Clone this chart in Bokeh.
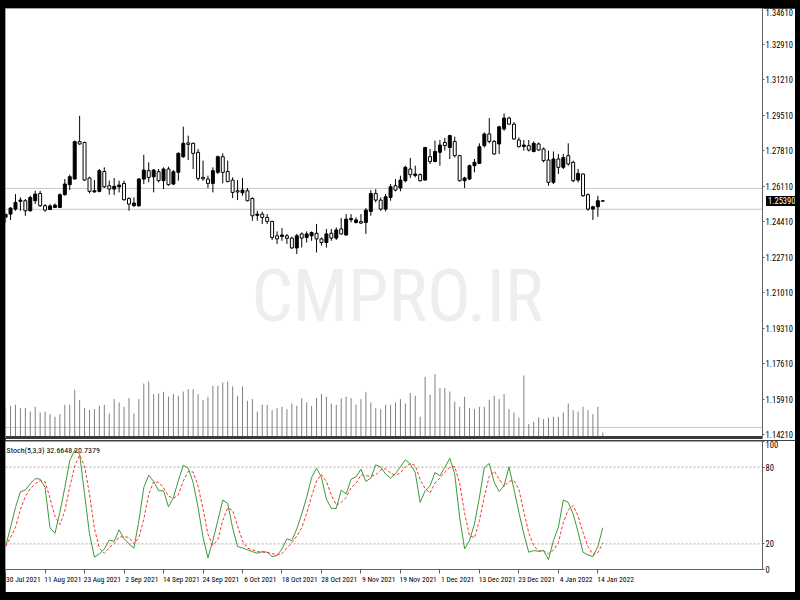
from bokeh.plotting import figure
from bokeh.models import Range1d, FixedTicker, PrintfTickFormatter, Span, Label, LinearAxis, Div
from bokeh.layouts import column
from bokeh.embed import file_html
from bokeh.resources import INLINE

FONT = "Roboto Condensed, Noto Sans Condensed, DejaVu Sans Condensed, Liberation Sans"

# ---------------- data ----------------
date_labels = ["30 Jul 2021", "11 Aug 2021", "23 Aug 2021", "2 Sep 2021", "14 Sep 2021",
               "24 Sep 2021", "6 Oct 2021", "18 Oct 2021", "28 Oct 2021", "9 Nov 2021",
               "19 Nov 2021", "1 Dec 2021", "13 Dec 2021", "23 Dec 2021", "4 Jan 2022",
               "14 Jan 2022"]
date_bars = [0, 8, 16, 24, 32, 40, 48, 56, 64, 72, 80, 88, 96, 104, 112, 120]

opens = [1.2462, 1.2477, 1.2501, 1.2538, 1.2541, 1.2493, 1.2541, 1.2576, 1.2517, 1.2499,
         1.2509, 1.2509, 1.2570, 1.2618, 1.2645, 1.2824, 1.2820, 1.2650, 1.2583, 1.2586,
         1.2681, 1.2613, 1.2597, 1.2608, 1.2624, 1.2552, 1.2517, 1.2517, 1.2645, 1.2685,
         1.2656, 1.2680, 1.2637, 1.2693, 1.2621, 1.2677, 1.2752, 1.2818, 1.2816, 1.2773,
         1.2653, 1.2645, 1.2624, 1.2677, 1.2752, 1.2681, 1.2640, 1.2589, 1.2579, 1.2589,
         1.2552, 1.2471, 1.2477, 1.2461, 1.2442, 1.2373, 1.2370, 1.2373, 1.2362, 1.2315,
         1.2382, 1.2365, 1.2373, 1.2385, 1.2358, 1.2341, 1.2385, 1.2362, 1.2406, 1.2377,
         1.2450, 1.2437, 1.2441, 1.2437, 1.2490, 1.2576, 1.2544, 1.2501, 1.2557, 1.2613,
         1.2602, 1.2637, 1.2693, 1.2662, 1.2666, 1.2640, 1.2752, 1.2729, 1.2773, 1.2820,
         1.2796, 1.2825, 1.2757, 1.2637, 1.2645, 1.2709, 1.2720, 1.2805, 1.2861, 1.2825,
         1.2813, 1.2885, 1.2937, 1.2908, 1.2832, 1.2801, 1.2805, 1.2777, 1.2813, 1.2789,
         1.2736, 1.2629, 1.2741, 1.2701, 1.2757, 1.2725, 1.2640, 1.2669, 1.2570, 1.2501,
         1.2512, 1.2541]
highs = [1.2480, 1.2509, 1.2573, 1.2557, 1.2549, 1.2565, 1.2589, 1.2589, 1.2525, 1.2525,
         1.2528, 1.2576, 1.2645, 1.2666, 1.2829, 1.2948, 1.2824, 1.2656, 1.2640, 1.2693,
         1.2701, 1.2637, 1.2650, 1.2637, 1.2637, 1.2557, 1.2557, 1.2650, 1.2761, 1.2725,
         1.2693, 1.2693, 1.2701, 1.2704, 1.2688, 1.2773, 1.2896, 1.2853, 1.2820, 1.2789,
         1.2733, 1.2661, 1.2701, 1.2757, 1.2768, 1.2733, 1.2653, 1.2640, 1.2650, 1.2602,
         1.2557, 1.2493, 1.2488, 1.2477, 1.2445, 1.2394, 1.2410, 1.2382, 1.2369, 1.2382,
         1.2389, 1.2394, 1.2394, 1.2430, 1.2365, 1.2406, 1.2406, 1.2413, 1.2458, 1.2477,
         1.2477, 1.2461, 1.2477, 1.2506, 1.2592, 1.2597, 1.2557, 1.2573, 1.2621, 1.2645,
         1.2661, 1.2709, 1.2746, 1.2709, 1.2672, 1.2799, 1.2789, 1.2829, 1.2832, 1.2842,
         1.2857, 1.2848, 1.2761, 1.2656, 1.2714, 1.2741, 1.2816, 1.2868, 1.2937, 1.2832,
         1.2900, 1.2959, 1.2943, 1.2918, 1.2844, 1.2832, 1.2832, 1.2825, 1.2820, 1.2796,
         1.2781, 1.2777, 1.2765, 1.2765, 1.2816, 1.2733, 1.2693, 1.2672, 1.2576, 1.2517,
         1.2565, 1.2543]
lows = [1.2436, 1.2449, 1.2493, 1.2493, 1.2469, 1.2488, 1.2525, 1.2512, 1.2488, 1.2496,
        1.2506, 1.2506, 1.2565, 1.2592, 1.2642, 1.2809, 1.2637, 1.2576, 1.2581, 1.2581,
        1.2602, 1.2570, 1.2568, 1.2581, 1.2541, 1.2493, 1.2512, 1.2512, 1.2621, 1.2629,
        1.2581, 1.2629, 1.2597, 1.2613, 1.2616, 1.2637, 1.2746, 1.2736, 1.2693, 1.2637,
        1.2637, 1.2602, 1.2581, 1.2669, 1.2624, 1.2629, 1.2554, 1.2544, 1.2565, 1.2538,
        1.2445, 1.2445, 1.2429, 1.2429, 1.2353, 1.2334, 1.2349, 1.2334, 1.2310, 1.2286,
        1.2317, 1.2341, 1.2349, 1.2293, 1.2326, 1.2317, 1.2349, 1.2353, 1.2378, 1.2373,
        1.2437, 1.2432, 1.2429, 1.2382, 1.2469, 1.2533, 1.2493, 1.2490, 1.2541, 1.2586,
        1.2586, 1.2629, 1.2650, 1.2653, 1.2633, 1.2637, 1.2717, 1.2725, 1.2709, 1.2781,
        1.2741, 1.2748, 1.2633, 1.2602, 1.2640, 1.2677, 1.2717, 1.2796, 1.2816, 1.2761,
        1.2765, 1.2876, 1.2905, 1.2832, 1.2796, 1.2781, 1.2777, 1.2773, 1.2781, 1.2725,
        1.2613, 1.2621, 1.2669, 1.2693, 1.2709, 1.2629, 1.2629, 1.2560, 1.2493, 1.2449,
        1.2464, 1.2537]
closes = [1.2476, 1.2506, 1.2533, 1.2544, 1.2493, 1.2557, 1.2573, 1.2517, 1.2496, 1.2516,
          1.2520, 1.2570, 1.2621, 1.2656, 1.2824, 1.2813, 1.2640, 1.2586, 1.2589, 1.2685,
          1.2608, 1.2597, 1.2610, 1.2616, 1.2546, 1.2525, 1.2530, 1.2645, 1.2688, 1.2653,
          1.2688, 1.2637, 1.2693, 1.2618, 1.2680, 1.2768, 1.2816, 1.2811, 1.2768, 1.2648,
          1.2646, 1.2624, 1.2685, 1.2752, 1.2677, 1.2633, 1.2581, 1.2583, 1.2592, 1.2541,
          1.2469, 1.2477, 1.2461, 1.2442, 1.2365, 1.2358, 1.2377, 1.2361, 1.2315, 1.2373,
          1.2362, 1.2382, 1.2389, 1.2358, 1.2341, 1.2382, 1.2362, 1.2401, 1.2382, 1.2453,
          1.2456, 1.2449, 1.2434, 1.2496, 1.2576, 1.2544, 1.2501, 1.2560, 1.2608, 1.2592,
          1.2640, 1.2701, 1.2666, 1.2669, 1.2637, 1.2796, 1.2729, 1.2777, 1.2808, 1.2805,
          1.2853, 1.2757, 1.2637, 1.2650, 1.2709, 1.2725, 1.2800, 1.2861, 1.2825, 1.2765,
          1.2895, 1.2937, 1.2908, 1.2837, 1.2800, 1.2808, 1.2784, 1.2816, 1.2784, 1.2733,
          1.2629, 1.2741, 1.2701, 1.2748, 1.2717, 1.2637, 1.2672, 1.2565, 1.2501, 1.2512,
          1.2541, 1.2539]
# tick volume (thousands)
volumes = [30, 31.7, 32.7, 29.4, 29.7, 26, 30.7, 25, 26, 23.4,
           20.7, 23.4, 32.7, 32.7, 47.7, 37.4, 29.4, 27.4, 28.4, 31.7,
           32.7, 24, 38.4, 35, 30.7, 39.4, 24, 38.4, 54, 56,
           43.4, 44, 45.7, 41, 43.4, 41.7, 46, 48.4, 48.4, 43.4,
           37.4, 40.7, 51.7, 51.7, 55, 56, 51, 41.7, 51, 36.7,
           38.4, 26, 32.7, 32.7, 27.4, 29.4, 30.7, 28.4, 34, 31.7,
           39.4, 35, 31.7, 39.4, 43.4, 40.7, 34, 32.7, 39.4, 40.7,
           39.4, 32.7, 38.4, 45.7, 35, 29.4, 28.4, 32.7, 32.7, 35,
           38.4, 34, 44.4, 41.7, 20.7, 60.7, 42.7, 63.4, 49.4, 49.4,
           46, 36, 30.7, 40.7, 29.4, 28.4, 30.7, 30.7, 37.7, 41.7,
           38.4, 43.4, 28.4, 25, 20, 62, 13.4, 15.7, 20, 18.4,
           20, 20.7, 20.7, 25, 34, 27.4, 26, 30.7, 27.4, 23.4,
           30.7, 5]
stoch_k = [17.9, 33, 48.5, 60.7, 62, 67, 71, 70.6, 64, 32.5,
           28.3, 44.7, 64, 85, 93.2, 90, 59, 27.8, 9.6, 12.2,
           16, 23, 22, 31, 24, 20, 16.6, 38, 64, 73.7,
           68.8, 61.5, 61.5, 49, 56.3, 69.3, 81.5, 79.2, 68, 48.5,
           25.2, 9.1, 22.6, 38.2, 54.3, 51.7, 32.5, 17.9, 16.9, 15.3,
           14, 12.7, 14, 13.5, 10.1, 10.9, 16.1, 23.9, 22.6, 31.7,
           43.4, 56.3, 71.9, 79.2, 71.9, 55, 47.8, 47.8, 62, 59,
           70.6, 72.4, 78.4, 68.8, 71.4, 81.8, 80, 74.5, 71.4, 75,
           80.2, 85.7, 82.3, 75.8, 52.4, 61.5, 65.4, 75.8, 73.2, 79.7,
           87, 74.5, 40.8, 16.1, 22.6, 35.6, 56.3, 79.7, 82.8, 68,
           61, 65.4, 80.2, 62.8, 44.7, 27.8, 13.5, 14.8, 14.3, 14.8,
           7.8, 22.6, 33, 54.3, 52.4, 43.4, 29.1, 13.5, 11.4, 10.1,
           17.9, 32.6648]
stoch_d = [18, 25, 33, 47, 57, 63, 67, 69.5, 68.5, 55.7,
           41.6, 35.2, 45.7, 64.6, 80.7, 89.4, 80.7, 58.9, 32.1, 16.5,
           12.6, 17.1, 20.3, 25.3, 25.7, 25, 20.2, 24.9, 39.5, 58.6,
           68.8, 68, 63.9, 57.3, 55.6, 58.2, 69, 76.7, 76.2, 65.2,
           47.2, 27.6, 19, 23.3, 38.4, 48.1, 46.2, 34, 22.4, 16.7,
           15.4, 14, 13.6, 13.4, 12.5, 11.5, 12.4, 17, 20.9, 26.1,
           32.6, 43.8, 57.2, 69.1, 74.3, 68.7, 58.2, 50.2, 52.5, 56.3,
           63.9, 67.3, 73.8, 73.2, 72.9, 74, 77.7, 78.8, 75.3, 73.6,
           75.5, 80.3, 82.7, 81.3, 70.2, 63.2, 59.8, 67.6, 71.5, 76.2,
           80, 80.4, 67.4, 43.8, 26.5, 24.8, 38.2, 57.2, 72.9, 76.8,
           70.6, 64.8, 68.9, 69.5, 62.6, 45.1, 28.7, 18.7, 14.2, 14.6,
           12.3, 15.1, 21.1, 36.6, 46.6, 50, 41.6, 28.7, 18, 11.7,
           13.1, 20.7379]

price_ticks = [1.14210, 1.15910, 1.17610, 1.19310, 1.21010, 1.22710, 1.24410,
               1.26110, 1.27810, 1.29510, 1.31210, 1.32910, 1.34610]
level_lines = [1.2600, 1.2500, 1.1455]
stoch_levels = [20, 80]
stoch_ticks = [0, 20, 80, 100]
last_price = 1.25390

# ---------------- layout constants ----------------
W = 790
RIGHT = 30
FRAME_W = W - RIGHT
P1_H, P1_BOTTOM = 432, 3
P1_FRAME_H = P1_H - P1_BOTTOM
P2_H, P2_TOP, P2_BOTTOM = 152, 1, 23
X_START, X_END = -0.02, 153.36
Y_LO, Y_HI = 1.14067, 1.3462
LABEL_SHIFT = 3.6          # date text starts at its tick (MT4 style)
TAG_H = 10

idx = list(range(len(opens)))
bull = [c > o for o, c in zip(opens, closes)]
body_top = [max(o, c) for o, c in zip(opens, closes)]
body_bot = [min(o, c) for o, c in zip(opens, closes)]
fills = ["black" if b else "white" for b in bull]

x_range = Range1d(X_START, X_END)


def style_axis(ax, size="8.5px"):
    ax.major_label_text_font = FONT
    ax.major_label_text_font_size = size
    ax.major_label_text_color = "black"
    ax.major_tick_in = 0
    ax.minor_tick_line_color = None
    ax.axis_line_color = "#606060"
    ax.major_tick_line_color = "#606060"


# ---------------- main price panel ----------------
p1 = figure(width=W, height=P1_H, x_range=x_range, y_range=Range1d(Y_LO, Y_HI),
            x_axis_location="below", y_axis_location="right",
            output_backend="svg", toolbar_location=None,
            min_border_left=0, min_border_right=RIGHT, min_border_top=0,
            min_border_bottom=P1_BOTTOM)
p1.grid.visible = False
p1.outline_line_color = "#a0a0a0"
p1.extra_y_ranges = {"vol": Range1d(0, 429)}

ya = p1.yaxis[0]
ya.ticker = FixedTicker(ticks=price_ticks)
ya.formatter = PrintfTickFormatter(format="%.5f")
style_axis(ya)
ya.major_tick_out = 2
ya.major_label_standoff = 1

# separator drawn as a heavy bottom axis line (no ticks)
sa = p1.xaxis[0]
sa.ticker = FixedTicker(ticks=[])
sa.major_tick_out = 0
sa.major_tick_in = 0
sa.minor_tick_line_color = None
sa.major_label_standoff = 0
sa.axis_line_color = "#3a3a3a"
sa.axis_line_width = 3

# watermark
p1.add_layout(Label(x=392, y=142, x_units="screen", y_units="screen", text="CMPRO.IR",
                    text_align="center", text_baseline="middle", text_font=FONT,
                    text_font_size="73px", text_color="#eeeeee", level="underlay"))

for lv in level_lines:
    p1.add_layout(Span(location=lv, dimension="width", line_color="#c8c8c8",
                       line_width=1, level="underlay"))

# volumes
p1.segment(x0=idx, y0=[0] * len(idx), x1=idx, y1=volumes, y_range_name="vol",
           line_color="#808080", line_width=1)

# candles
p1.segment(x0=idx, y0=lows, x1=idx, y1=highs, line_color="black", line_width=1)
p1.vbar(x=idx, width=0.6, top=body_top, bottom=body_bot, fill_color=fills,
        line_color="black", line_width=1)

# ---------------- current price tag, laid over the price scale ----------------
tag_center = (Y_HI - last_price) / (Y_HI - Y_LO) * P1_FRAME_H   # px below p1 top
tag_top = int(round(tag_center - TAG_H / 2))
tag = Div(text=f"{last_price:.5f}", width=RIGHT - 1, height=TAG_H,
          margin=(tag_top - P1_H, 0, P1_H - tag_top - TAG_H, FRAME_W + 1),
          styles={"background-color": "black", "color": "white",
                  "font-family": FONT, "font-size": "8.5px", "line-height": f"{TAG_H}px",
                  "padding-left": "2px", "overflow": "hidden", "white-space": "nowrap",
                  "box-sizing": "border-box"})

# ---------------- stochastic panel ----------------
p2 = figure(width=W, height=P2_H, x_range=x_range, y_range=Range1d(0, 100),
            x_axis_location="below", y_axis_location="right",
            output_backend="svg", toolbar_location=None,
            min_border_left=0, min_border_right=RIGHT, min_border_top=P2_TOP,
            min_border_bottom=P2_BOTTOM)
p2.grid.visible = False
p2.outline_line_color = "#a0a0a0"

for lv in stoch_levels:
    p2.add_layout(Span(location=lv, dimension="width", line_color="#a8a8a8",
                       line_width=1, line_dash="2 2", level="underlay"))

p2.line(idx, stoch_k, line_color="#3a9a3a", line_width=1)
p2.line(idx, stoch_d, line_color="#ff3030", line_width=1, line_dash="3 2")

sy = p2.yaxis[0]
sy.ticker = FixedTicker(ticks=stoch_ticks)
style_axis(sy)
sy.major_tick_out = 2
sy.major_label_standoff = 1

p2.add_layout(Label(x=1, y=P2_H - P2_TOP - P2_BOTTOM - 4, x_units="screen", y_units="screen",
                    text=f"Stoch(5,3,3) {stoch_k[-1]:.4f} {stoch_d[-1]:.4f}",
                    text_align="left", text_baseline="top", text_font=FONT,
                    text_font_size="8px", text_color="black"))

# date tick marks on the bars
xa = p2.xaxis[0]
xa.ticker = FixedTicker(ticks=date_bars)
style_axis(xa, size="0px")
xa.major_tick_out = 4
xa.major_label_standoff = 0
xa.major_label_overrides = {b: "" for b in date_bars}

# date texts, starting at their ticks
label_anchor = [b + LABEL_SHIFT for b in date_bars]
xl = LinearAxis(ticker=FixedTicker(ticks=label_anchor),
                major_label_overrides={a: d for a, d in zip(label_anchor, date_labels)})
style_axis(xl, size="7.5px")
xl.axis_line_color = None
xl.major_tick_line_color = None
xl.major_tick_out = 0
xl.major_label_standoff = 1
p2.add_layout(xl, "below")

layout = column(p1, tag, p2, spacing=0, margin=(8, 0, 0, 5))

html = file_html(layout, INLINE, title="USDCAD D1")
html = html.replace("</head>", "<style>html,body{background:#000000;}</style></head>", 1)
open("out.html", "w").write(html)
